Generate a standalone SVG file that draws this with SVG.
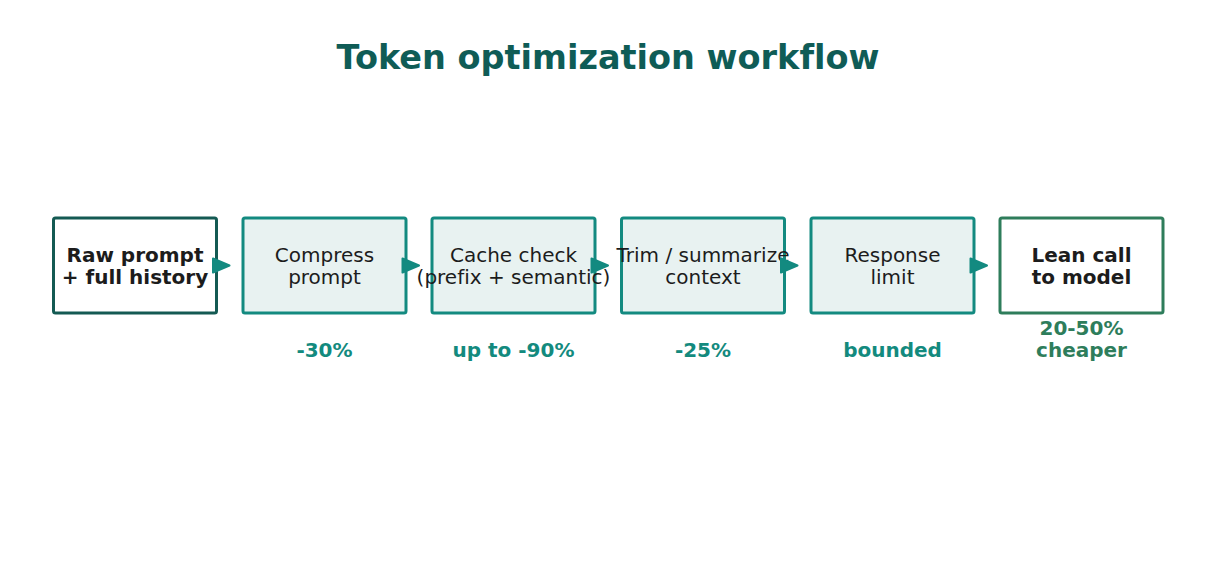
<svg xmlns="http://www.w3.org/2000/svg" width="1216" height="585" viewBox="0 0 1216 585">
<style>
text{font-family:"DejaVu Sans",Verdana,sans-serif;text-anchor:middle;font-variant-ligatures:none}
.title{font-size:33.5px;font-weight:bold;fill:#0f5c56}
.lbl{font-size:20px;fill:#1c1c1c}
.b{font-weight:bold}
.pct{font-size:20px;font-weight:bold;fill:#138a7e}
.pctg{font-size:20px;font-weight:bold;fill:#2e7d5b}
.mid{fill:#e8f2f1;stroke:#138a80;stroke-width:3}
.start{fill:#ffffff;stroke:#145a53;stroke-width:3}
.end{fill:#ffffff;stroke:#2e7d5b;stroke-width:3}
.arr{fill:#138a80;stroke:#138a80;stroke-width:2;stroke-linejoin:round}
</style>
<rect width="1216" height="585" fill="#ffffff"/>
<text class="title" x="608" y="69">Token optimization workflow</text>
<g id="n1"><rect class="start" x="53.5" y="218" width="163" height="95" rx="2"/><text class="lbl b" x="135" y="262">Raw prompt</text><text class="lbl b" x="135" y="284">+ full history</text></g>
<g id="n2"><rect class="mid" x="243" y="218" width="163" height="95" rx="2"/><text class="lbl" x="324.5" y="262">Compress</text><text class="lbl" x="324.5" y="284">prompt</text><text class="pct" x="324.5" y="357">-30%</text></g>
<g id="n3"><rect class="mid" x="432" y="218" width="163" height="95" rx="2"/><text class="lbl" x="513.5" y="262">Cache check</text><text class="lbl" x="513.5" y="284">(prefix + semantic)</text><text class="pct" x="513.5" y="357">up to -90%</text></g>
<g id="n4"><rect class="mid" x="621.5" y="218" width="163" height="95" rx="2"/><text class="lbl" x="703" y="262">Trim / summarize</text><text class="lbl" x="703" y="284">context</text><text class="pct" x="703" y="357">-25%</text></g>
<g id="n5"><rect class="mid" x="811" y="218" width="163" height="95" rx="2"/><text class="lbl" x="892.5" y="262">Response</text><text class="lbl" x="892.5" y="284">limit</text><text class="pct" x="892.5" y="357">bounded</text></g>
<g id="n6"><rect class="end" x="1000" y="218" width="163" height="95" rx="2"/><text class="lbl b" x="1081.5" y="262">Lean call</text><text class="lbl b" x="1081.5" y="284">to model</text><text class="pctg" x="1081.5" y="335">20-50%</text><text class="pctg" x="1081.5" y="357">cheaper</text></g>
<g id="connectors">
<polygon class="arr" points="213,258.5 229.5,265.5 213,272.5"/>
<polygon class="arr" points="402.5,258.5 419,265.5 402.5,272.5"/>
<polygon class="arr" points="591.5,258.5 608,265.5 591.5,272.5"/>
<polygon class="arr" points="781,258.5 797.5,265.5 781,272.5"/>
<polygon class="arr" points="970.5,258.5 987,265.5 970.5,272.5"/>
</g>
</svg>
